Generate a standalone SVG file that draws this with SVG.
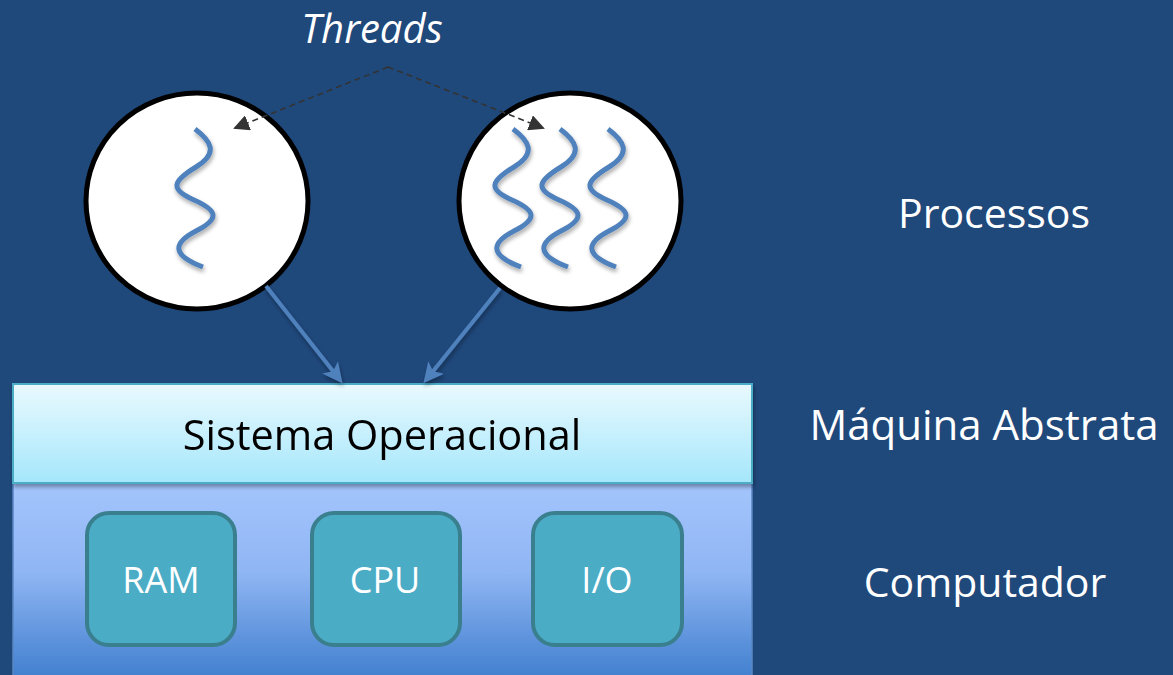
<svg xmlns="http://www.w3.org/2000/svg" width="1173" height="675" viewBox="0 0 1173 675">
  <defs>
    <linearGradient id="gSO" x1="0" y1="0" x2="0" y2="1">
      <stop offset="0" stop-color="#e9f9fe"/>
      <stop offset="1" stop-color="#a5e7fb"/>
    </linearGradient>
    <linearGradient id="gHW" x1="0" y1="0" x2="0" y2="1">
      <stop offset="0" stop-color="#a4c5fd"/>
      <stop offset="0.45" stop-color="#8fb5f3"/>
      <stop offset="1" stop-color="#3d7dcd"/>
    </linearGradient>
    <filter id="sh" x="-30%" y="-30%" width="160%" height="160%">
      <feGaussianBlur in="SourceAlpha" stdDeviation="2"/>
      <feOffset dx="1" dy="3" result="b"/>
      <feComponentTransfer><feFuncA type="linear" slope="0.35"/></feComponentTransfer>
      <feMerge><feMergeNode/><feMergeNode in="SourceGraphic"/></feMerge>
    </filter>
    <path id="wave" d="M0,0 C16,12 24,24 1,38 S-26,60 -1,71 S24,90 1,102 S-24,126 8,138"/>
    <marker id="mBlue" markerWidth="5" markerHeight="5" refX="4" refY="2.5" orient="auto" markerUnits="strokeWidth">
      <path d="M0,0 L5,2.5 L0,5 L1.2,2.5 Z" fill="#4f81bd"/>
    </marker>
    <marker id="mDash" markerWidth="16" markerHeight="16" refX="14" refY="8" orient="auto" markerUnits="userSpaceOnUse">
      <path d="M0,0 L16,8 L0,16 Z" fill="#333333"/>
    </marker>
    <style>
      .lbl { font-family: "Open Sans", "Liberation Sans", sans-serif; fill: #ffffff; }
      .big { font-size: 41px; }
      .hw { font-size: 36px; text-anchor: middle; }
      .proc { fill: #ffffff; stroke: #000000; stroke-width: 5; }
      .thr { fill: none; stroke: #4f81bd; stroke-width: 5; stroke-linecap: butt; }
      .chip { fill: #4bacc6; stroke: #3a7f8e; stroke-width: 4; }
      .conn { stroke: #4f81bd; stroke-width: 4; fill: none; }
      .dash { stroke: #333333; stroke-width: 1.6; stroke-dasharray: 6 4; fill: none; }
    </style>
  </defs>

  <rect x="0" y="0" width="1173" height="675" fill="#1f487b"/>

  <g id="hardware">
    <rect x="13" y="483" width="739" height="200" fill="url(#gHW)" stroke="#5a86c2" stroke-width="1.5"/>
  </g>

  <g id="so" filter="url(#sh)">
    <rect x="13" y="384" width="739" height="99" fill="url(#gSO)" stroke="#4bacc6" stroke-width="2"/>
    <text x="382" y="450" text-anchor="middle" font-family="Open Sans, Liberation Sans, sans-serif" font-size="41.5" fill="#000000">Sistema Operacional</text>
  </g>

  <g id="ram">
    <rect x="87" y="513" width="148" height="132" rx="22" class="chip"/>
    <text x="161" y="593" class="lbl hw">RAM</text>
  </g>
  <g id="cpu">
    <rect x="312" y="513" width="148" height="132" rx="22" class="chip"/>
    <text x="385" y="593" class="lbl hw">CPU</text>
  </g>
  <g id="io">
    <rect x="533" y="513" width="149" height="132" rx="22" class="chip"/>
    <text x="607" y="593" class="lbl hw">I/O</text>
  </g>

  <g id="proc1">
    <ellipse cx="197" cy="201" rx="111" ry="108" class="proc"/>
    <use href="#wave" x="195" y="129" class="thr" filter="url(#sh)"/>
  </g>
  <g id="proc2">
    <ellipse cx="570" cy="201" rx="111" ry="108" class="proc"/>
    <use href="#wave" x="513" y="129" class="thr" filter="url(#sh)"/>
    <use href="#wave" x="560" y="129" class="thr" filter="url(#sh)"/>
    <use href="#wave" x="608" y="129" class="thr" filter="url(#sh)"/>
  </g>

  <g id="connectors">
    <line x1="266" y1="286" x2="340" y2="380" class="conn" marker-end="url(#mBlue)" filter="url(#sh)"/>
    <line x1="500" y1="288" x2="426" y2="380" class="conn" marker-end="url(#mBlue)" filter="url(#sh)"/>
    <path d="M388,67 L235,128" class="dash" marker-end="url(#mDash)"/>
    <path d="M388,67 L543,128" class="dash" marker-end="url(#mDash)"/>
  </g>

  <g id="labels">
    <text x="372" y="43" class="lbl" font-size="40" font-style="italic" text-anchor="middle">Threads</text>
    <text x="994" y="228" class="lbl big" text-anchor="middle">Processos</text>
    <text x="984" y="440" class="lbl" font-size="42" text-anchor="middle">Máquina Abstrata</text>
    <text x="985" y="597" class="lbl big" text-anchor="middle">Computador</text>
  </g>
</svg>
